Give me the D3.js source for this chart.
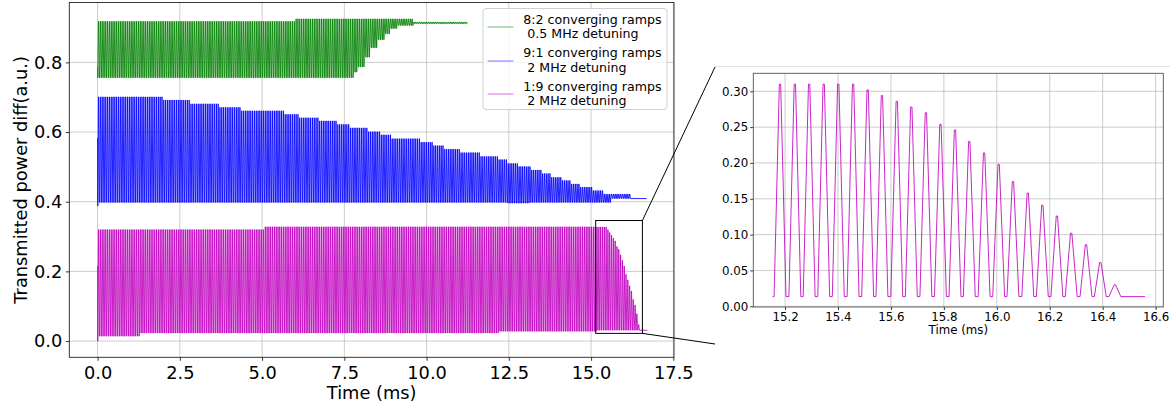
<!DOCTYPE html>
<html>
<head>
<meta charset="utf-8">
<script src="https://cdn.jsdelivr.net/npm/d3@7"></script>
<style>
  html, body { margin: 0; padding: 0; background: #fff; }
  svg { display: block; font-family: "DejaVu Sans", sans-serif; }
  .legend text { white-space: pre; }
</style>
</head>
<body>
<svg id="chart" width="1170" height="406"></svg>
<script>
// ---------------------------------------------------------------------------
// Ramp timing: one converging-ramp cycle every PERIOD ms; each cycle rises for
// RISE ms, holds its crest for CREST ms, then falls back for RISE ms.
const PERIOD = 0.0551;
const RISE = 0.02;
const CREST = 0.005;

// Axis ticks
const timeTicks = [0, 2.5, 5, 7.5, 10, 12.5, 15, 17.5];
const powerTicks = [0, 0.2, 0.4, 0.6, 0.8];
const insetTimeTicks = [15.2, 15.4, 15.6, 15.8, 16.0, 16.2, 16.4, 16.6];
const insetPowerTicks = [0, 0.05, 0.10, 0.15, 0.20, 0.25, 0.30];

// Series labels and colours
const seriesLabels = [
  ["8:2 converging ramps", " 0.5 MHz detuning"],
  ["9:1 converging ramps", " 2 MHz detuning"],
  ["1:9 converging ramps", " 2 MHz detuning"]
];
const seriesColors = ["#008000", "#0000ff", "#bf00bf"];

// 8:2 ramps, 0.5 MHz detuning  — envelopes as [time from (ms), level]
const greenLead = [[0, 0.787]];
const greenTop = [[0, 0.918], [6.0, 0.925], [9.6, 0.916]];
const greenBottom = [[0, 0.756], [7.77, 0.772], [7.87, 0.787], [8.08, 0.815], [8.28, 0.842],
                     [8.48, 0.865], [8.68, 0.882], [8.89, 0.897], [9.09, 0.906], [9.6, 0.911]];
const greenLastPeak = 11.25;

// 9:1 ramps, 2 MHz detuning
const blueLead = [[0, 0.583], [0.005, 0.388]];
const blueTop = [[0, 0.701], [2.0, 0.692], [2.79, 0.681], [3.68, 0.671], [4.38, 0.661],
                 [5.66, 0.651], [6.09, 0.641], [6.75, 0.632], [7.28, 0.622], [7.65, 0.612],
                 [8.21, 0.601], [8.59, 0.592], [8.92, 0.581], [9.80, 0.571], [10.19, 0.561],
                 [10.52, 0.551], [11.01, 0.541], [11.64, 0.530], [12.16, 0.521], [12.45, 0.510],
                 [12.79, 0.501], [13.19, 0.491], [13.48, 0.481], [13.76, 0.470], [14.09, 0.461],
                 [14.37, 0.451], [14.66, 0.442], [15.03, 0.432], [15.38, 0.422]];
const blueBottom = [[0, 0.398], [12.43, 0.396], [13.14, 0.398], [15.6, 0.409]];
const blueLastPeak = 16.19;
const blueTail = [[16.69, 0.409]];

// 1:9 ramps, 2 MHz detuning
const magentaLead = [[0, 0.216], [0.005, 0.0]];
const magentaTop = [[0, 0.320], [5.09, 0.328]];
const magentaBottom = [[0, 0.014], [1.27, 0.023], [12.2, 0.028]];
const magentaShift = 0.0175;          // main trace sits this far above the zoomed trace
const magentaTailEnd = 16.71;

// Zoomed end of the 1:9 trace: crest times (ms) and crest levels
const zoomPeakTimes = [15.181, 15.237, 15.291, 15.346, 15.401, 15.457, 15.512, 15.566,
                       15.622, 15.677, 15.732, 15.787, 15.842, 15.896, 15.952, 16.007,
                       16.061, 16.117, 16.172, 16.227, 16.281, 16.337, 16.391, 16.446];
const zoomPeaks = [0.310, 0.310, 0.310, 0.310, 0.310, 0.310, 0.302, 0.294,
                   0.286, 0.278, 0.270, 0.254, 0.246, 0.230, 0.214, 0.198,
                   0.174, 0.158, 0.141, 0.126, 0.102, 0.086, 0.061, 0.030];
const zoomTrough = 0.0135;
const zoomStart = 15.153;
const zoomEnd = 16.56;

// Region of the main plot shown enlarged
const zoomBoxTime = [15.14, 16.56];
const zoomBoxPower = [0.022, 0.346];

// ---------------------------------------------------------------------------
const svg = d3.select("#chart");
const FONT = "DejaVu Sans, sans-serif";

const main = { left: 69.3, right: 674, top: 2.5, bottom: 357.3 };
const inset = { left: 753.3, right: 1163.3, top: 73.3, bottom: 307 };
const panel = { left: 715, top: 67, bottom: 344, right: 1170 };

const x = d3.scaleLinear().domain([-0.86, 17.52]).range([main.left, main.right]);
const y = d3.scaleLinear().domain([-0.0467, 0.972]).range([main.bottom, main.top]);
const xi = d3.scaleLinear().domain([15.08, 16.629]).range([inset.left, inset.right]);
const yi = d3.scaleLinear().domain([-0.001, 0.3251]).range([inset.bottom, inset.top]);

function stepAt(steps, t) {
  let v = steps[0][1];
  for (const [t0, val] of steps) { if (t >= t0) v = val; else break; }
  return v;
}

function cycle(p, top, bot) {
  return [[p - CREST / 2 - RISE, bot], [p - CREST / 2, top], [p + CREST / 2, top], [p + CREST / 2 + RISE, bot]];
}

function rampTrace(lead, firstPeak, lastPeak, topSteps, botSteps) {
  const pts = lead.slice();
  const n = Math.floor((lastPeak - firstPeak) / PERIOD + 1e-6);
  for (let k = 0; k <= n; k++) {
    const p = firstPeak + k * PERIOD;
    pts.push(...cycle(p, stepAt(topSteps, p), stepAt(botSteps, p)));
  }
  return pts;
}

// Main traces
const firstPeak = zoomPeakTimes[0] - Math.floor(zoomPeakTimes[0] / PERIOD - 0.5) * PERIOD;

const greenTrace = rampTrace(greenLead, firstPeak, greenLastPeak, greenTop, greenBottom);
const blueTrace = rampTrace(blueLead, firstPeak, blueLastPeak, blueTop, blueBottom).concat(blueTail);
const magentaTrace = rampTrace(magentaLead, firstPeak, zoomPeakTimes[0] - PERIOD / 2, magentaTop, magentaBottom);
zoomPeakTimes.forEach((p, i) => magentaTrace.push(...cycle(p, zoomPeaks[i] + magentaShift, zoomTrough + magentaShift)));
magentaTrace.push([magentaTailEnd, zoomTrough + magentaShift]);

// Zoomed trace
const zoomTrace = [[zoomStart, zoomTrough]];
zoomPeakTimes.forEach((p, i) => zoomTrace.push(...cycle(p, zoomPeaks[i], zoomTrough)));
zoomTrace.push([zoomEnd, zoomTrough]);

// ---------------------------------------------------------------------------
// Main axes
const defs = svg.append("defs");
defs.append("clipPath").attr("id", "clipMain").append("rect")
  .attr("x", main.left).attr("y", main.top)
  .attr("width", main.right - main.left).attr("height", main.bottom - main.top);
defs.append("clipPath").attr("id", "clipInset").append("rect")
  .attr("x", inset.left).attr("y", inset.top)
  .attr("width", inset.right - inset.left).attr("height", inset.bottom - inset.top);

const gridColor = "#b0b0b0";

const gMain = svg.append("g");
gMain.append("g").selectAll("line").data(timeTicks).join("line")
  .attr("x1", d => x(d)).attr("x2", d => x(d))
  .attr("y1", main.top).attr("y2", main.bottom)
  .attr("stroke", gridColor).attr("stroke-width", 0.8).attr("stroke-opacity", 0.8);
gMain.append("g").selectAll("line").data(powerTicks).join("line")
  .attr("x1", main.left).attr("x2", main.right)
  .attr("y1", d => y(d)).attr("y2", d => y(d))
  .attr("stroke", gridColor).attr("stroke-width", 0.8).attr("stroke-opacity", 0.8);

const line = d3.line().x(d => x(d[0])).y(d => y(d[1]));
const traces = [greenTrace, blueTrace, magentaTrace];
gMain.append("g").attr("clip-path", "url(#clipMain)")
  .selectAll("path").data(traces).join("path")
  .attr("d", line)
  .attr("fill", "none")
  .attr("stroke", (d, i) => seriesColors[i])
  .attr("stroke-width", 0.85)
  .attr("stroke-linejoin", "round");

// zoom region marker
gMain.append("rect")
  .attr("x", x(zoomBoxTime[0])).attr("y", y(zoomBoxPower[1]))
  .attr("width", x(zoomBoxTime[1]) - x(zoomBoxTime[0]))
  .attr("height", y(zoomBoxPower[0]) - y(zoomBoxPower[1]))
  .attr("fill", "none").attr("stroke", "#000").attr("stroke-width", 1);

const xAxis = d3.axisBottom(x).tickValues(timeTicks).tickFormat(d3.format(".1f")).tickSize(3.5).tickPadding(5.5);
const yAxis = d3.axisLeft(y).tickValues(powerTicks).tickFormat(d3.format(".1f")).tickSize(3.5).tickPadding(3.5);

function styleAxis(g, size) {
  g.select(".domain").remove();
  g.selectAll(".tick line").attr("stroke", "#000").attr("stroke-width", 0.8);
  g.selectAll(".tick text").attr("fill", "#000").style("font-family", FONT).style("font-size", size + "px");
}
gMain.append("g").attr("transform", `translate(0,${main.bottom})`).call(xAxis).call(g => styleAxis(g, 17.8));
gMain.append("g").attr("transform", `translate(${main.left},0)`).call(yAxis).call(g => styleAxis(g, 17.8));

gMain.append("rect")
  .attr("x", main.left).attr("y", main.top)
  .attr("width", main.right - main.left).attr("height", main.bottom - main.top)
  .attr("fill", "none").attr("stroke", "#222").attr("stroke-width", 0.9);

gMain.append("text")
  .attr("x", (main.left + main.right) / 2).attr("y", 399)
  .attr("text-anchor", "middle").style("font-size", "17.8px").attr("fill", "#000")
  .text("Time (ms)");
gMain.append("text")
  .attr("transform", `translate(27,${(main.top + main.bottom) / 2}) rotate(-90)`)
  .attr("text-anchor", "middle").style("font-size", "17.8px").attr("fill", "#000")
  .text("Transmitted power diff(a.u.)");

// Legend
const legend = svg.append("g").attr("class", "legend");
const lg = { x: 483, y: 8.5, w: 184, h: 101 };
legend.append("rect")
  .attr("x", lg.x).attr("y", lg.y).attr("width", lg.w).attr("height", lg.h)
  .attr("rx", 3).attr("fill", "#fff").attr("fill-opacity", 0.8)
  .attr("stroke", "#d0d0d0").attr("stroke-width", 1);
seriesLabels.forEach((lines, i) => {
  const cy = lg.y + 18.8 + i * 33.3;
  legend.append("line")
    .attr("x1", lg.x + 4.5).attr("x2", lg.x + 30.5)
    .attr("y1", Math.round(cy)).attr("y2", Math.round(cy))
    .attr("stroke", seriesColors[i]).attr("stroke-width", 1).attr("stroke-opacity", 0.55);
  lines.forEach((t, j) => {
    legend.append("text")
      .attr("x", lg.x + 40.3).attr("y", cy - 3.3 + j * 14.3)
      .style("font-size", "12.6px").attr("fill", "#000")
      .text(t);
  });
});

// ---------------------------------------------------------------------------
// Connector lines and zoom panel
const boxRight = x(zoomBoxTime[1]);
svg.append("line")
  .attr("x1", panel.left).attr("x2", panel.right)
  .attr("y1", panel.top - 0.5).attr("y2", panel.top - 0.5)
  .attr("stroke", "#e2e2e2").attr("stroke-width", 1);
svg.append("line")
  .attr("x1", boxRight).attr("y1", y(zoomBoxPower[1]))
  .attr("x2", panel.left).attr("y2", panel.top)
  .attr("stroke", "#000").attr("stroke-width", 1);
svg.append("line")
  .attr("x1", boxRight).attr("y1", y(zoomBoxPower[0]))
  .attr("x2", panel.left).attr("y2", panel.bottom)
  .attr("stroke", "#000").attr("stroke-width", 1);

// Inset axes
const gIn = svg.append("g");
gIn.append("g").selectAll("line").data(insetTimeTicks).join("line")
  .attr("x1", d => xi(d)).attr("x2", d => xi(d))
  .attr("y1", inset.top).attr("y2", inset.bottom)
  .attr("stroke", gridColor).attr("stroke-width", 0.8).attr("stroke-opacity", 0.8);
gIn.append("g").selectAll("line").data(insetPowerTicks).join("line")
  .attr("x1", inset.left).attr("x2", inset.right)
  .attr("y1", d => yi(d)).attr("y2", d => yi(d))
  .attr("stroke", gridColor).attr("stroke-width", 0.8).attr("stroke-opacity", 0.8);

const lineIn = d3.line().x(d => xi(d[0])).y(d => yi(d[1]));
gIn.append("path").attr("clip-path", "url(#clipInset)")
  .datum(zoomTrace).attr("d", lineIn)
  .attr("fill", "none").attr("stroke", seriesColors[2]).attr("stroke-width", 1)
  .attr("stroke-opacity", 0.85);

const xAxisIn = d3.axisBottom(xi).tickValues(insetTimeTicks).tickFormat(d3.format(".1f")).tickSize(3).tickPadding(2.5);
const yAxisIn = d3.axisLeft(yi).tickValues(insetPowerTicks).tickFormat(d3.format(".2f")).tickSize(3).tickPadding(2);
gIn.append("g").attr("transform", `translate(0,${inset.bottom})`).call(xAxisIn).call(g => styleAxis(g, 11.8));
gIn.append("g").attr("transform", `translate(${inset.left},0)`).call(yAxisIn).call(g => styleAxis(g, 11.8));

gIn.append("rect")
  .attr("x", inset.left).attr("y", inset.top)
  .attr("width", inset.right - inset.left).attr("height", inset.bottom - inset.top)
  .attr("fill", "none").attr("stroke", "#555").attr("stroke-width", 0.9);

gIn.append("text")
  .attr("x", (inset.left + inset.right) / 2).attr("y", 334)
  .attr("text-anchor", "middle").style("font-size", "11.8px").attr("fill", "#000")
  .text("Time (ms)");
</script>
</body>
</html>
